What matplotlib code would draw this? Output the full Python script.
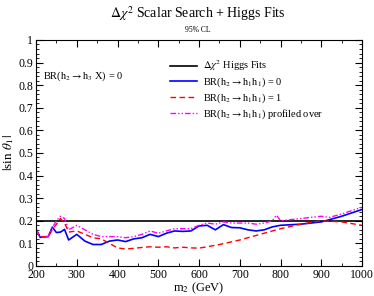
import numpy as np
import matplotlib
matplotlib.use('Agg')
import matplotlib.pyplot as plt
from matplotlib.ticker import MultipleLocator

plt.rcParams['font.family'] = 'Liberation Serif'
plt.rcParams['mathtext.fontset'] = 'stix'

# BR(h2->h1h1) = 0
m_blue = [200, 210, 230, 240, 250, 260, 270, 280, 300, 320, 340, 360, 380, 400,
          420, 440, 460, 480, 500, 520, 540, 560, 580, 600, 620, 640, 660, 680,
          700, 720, 740, 760, 780, 800, 850, 900, 950, 1000]
s_blue = [0.164, 0.127, 0.13, 0.172, 0.148, 0.15, 0.162, 0.115, 0.14, 0.11,
          0.095, 0.095, 0.11, 0.115, 0.108, 0.12, 0.125, 0.14, 0.13, 0.145,
          0.155, 0.153, 0.155, 0.177, 0.18, 0.16, 0.183, 0.17, 0.169, 0.16,
          0.155, 0.16, 0.173, 0.18, 0.185, 0.195, 0.22, 0.25]

# BR(h2->h1h1) = 1
m_red = [200, 210, 230, 240, 260, 270, 280, 300, 320, 340, 360, 380, 400, 420,
         440, 460, 480, 500, 520, 540, 560, 580, 600, 620, 650, 700, 750, 800,
         850, 900, 950, 1000]
s_red = [0.16, 0.13, 0.13, 0.16, 0.21, 0.19, 0.15, 0.155, 0.14, 0.125, 0.12,
         0.1, 0.08, 0.075, 0.078, 0.082, 0.085, 0.083, 0.085, 0.08, 0.083,
         0.08, 0.079, 0.085, 0.095, 0.115, 0.14, 0.165, 0.185, 0.2, 0.195,
         0.18]

# BR(h2->h1h1) profiled over
m_mag = [200, 210, 230, 240, 250, 260, 270, 280, 300, 320, 340, 360, 380, 400,
         420, 440, 460, 480, 500, 520, 540, 560, 580, 600, 620, 640, 660, 680,
         700, 720, 740, 760, 780, 790, 800, 850, 900, 920, 950, 1000]
s_mag = [0.16, 0.125, 0.13, 0.17, 0.2, 0.22, 0.21, 0.16, 0.18, 0.16, 0.14,
         0.13, 0.13, 0.13, 0.125, 0.13, 0.14, 0.155, 0.145, 0.155, 0.165,
         0.165, 0.165, 0.18, 0.19, 0.185, 0.195, 0.19, 0.19, 0.19, 0.185,
         0.19, 0.2, 0.225, 0.2, 0.21, 0.22, 0.215, 0.23, 0.26]

higgs_fit = 0.2

fig = plt.figure(figsize=(3.74, 2.96), dpi=100)
ax = fig.add_axes([0.0963, 0.1014, 0.8717, 0.7636])

ax.axhline(higgs_fit, color='black', linewidth=1.2, label=r'$\Delta\chi^2$ Higgs Fits')
ax.plot(m_blue, s_blue, color='blue', linewidth=1.2,
        label=r'BR(h$_2$$\rightarrow$h$_1$h$_1$) = 0')
ax.plot(m_red, s_red, color='red', linewidth=1.0, linestyle=(0, (4, 2.5)),
        label=r'BR(h$_2$$\rightarrow$h$_1$h$_1$) = 1')
ax.plot(m_mag, s_mag, color='magenta', linewidth=1.0, linestyle=(0, (4, 1.5, 1, 1.5, 1, 1.5)),
        label=r'BR(h$_2$$\rightarrow$h$_1$h$_1$) profiled over')

ax.set_xlim(200, 1000)
ax.set_ylim(0, 1)
ax.xaxis.set_major_locator(MultipleLocator(100))
ax.xaxis.set_minor_locator(MultipleLocator(50))
ax.yaxis.set_minor_locator(MultipleLocator(0.02))
ax.set_yticks(np.arange(0, 1.01, 0.1))
ax.set_yticklabels(['0', '0.1', '0.2', '0.3', '0.4', '0.5', '0.6', '0.7', '0.8', '0.9', '1'])
ax.tick_params(which='both', direction='in', top=True, right=True, labelsize=8.5, pad=2)
ax.tick_params(which='major', length=5)
ax.tick_params(which='minor', length=2.5)

ax.set_xlabel(r'm$_2$ (GeV)', fontsize=9, labelpad=0)
ax.set_ylabel(r'$|$sin $\theta_1|$', fontsize=9.5, labelpad=2)

fig.text(0.53, 0.955, r'$\Delta\chi^2$ Scalar Search + Higgs Fits', ha='center', va='center', fontsize=10)
fig.text(0.53, 0.898, '95% CL', ha='center', va='center', fontsize=5.5)
ax.text(0.02, 0.84, r'BR(h$_2$$\rightarrow$h$_3$ X) = 0', transform=ax.transAxes,
        fontsize=7.5, va='center')

ax.legend(loc='upper left', bbox_to_anchor=(0.38, 0.965), frameon=False, fontsize=7.5,
          handlelength=2.6, handletextpad=0.5, labelspacing=0.22, borderaxespad=0.6)

fig.savefig('out.png', dpi=100)
